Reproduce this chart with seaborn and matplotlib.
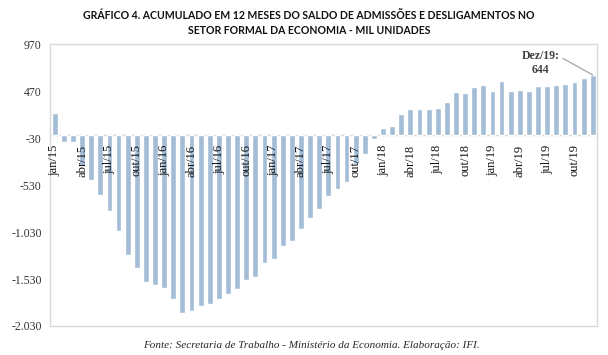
import matplotlib
matplotlib.use("Agg")
import matplotlib.pyplot as plt
import matplotlib.transforms as mtransforms
import seaborn as sns
import pandas as pd

months = ["jan/15","fev/15","mar/15","abr/15","mai/15","jun/15","jul/15","ago/15","set/15","out/15","nov/15","dez/15",
          "jan/16","fev/16","mar/16","abr/16","mai/16","jun/16","jul/16","ago/16","set/16","out/16","nov/16","dez/16",
          "jan/17","fev/17","mar/17","abr/17","mai/17","jun/17","jul/17","ago/17","set/17","out/17","nov/17","dez/17",
          "jan/18","fev/18","mar/18","abr/18","mai/18","jun/18","jul/18","ago/18","set/18","out/18","nov/18","dez/18",
          "jan/19","fev/19","mar/19","abr/19","mai/19","jun/19","jul/19","ago/19","set/19","out/19","nov/19","dez/19"]

values = [244, -66, -66, -330, -477, -630, -809, -1015, -1273, -1416, -1566, -1594,
          -1630, -1744, -1890, -1865, -1815, -1797, -1740, -1690, -1633, -1537, -1505, -1355,
          -1312, -1180, -1123, -1001, -880, -780, -645, -573, -495, -300, -200, -43,
          84, 102, 223, 284, 284, 280, 287, 359, 462, 448, 519, 534,
          473, 580, 473, 480, 477, 527, 523, 534, 552, 566, 609, 644]

shown_labels = ["jan/15","abr/15","jul/15","out/15","jan/16","abr/16","jul/16","out/16",
                "jan/17","abr/17","jul/17","out/17","jan/18","abr/18","jul/18","out/18",
                "jan/19","abr/19","jul/19","out/19"]

yticks = [-2030, -1530, -1030, -530, -30, 470, 970]
ytick_labels = ["-2.030", "-1.530", "-1.030", "-530", "-30", "470", "970"]

title = ("GRÁFICO 4. ACUMULADO EM 12 MESES DO SALDO DE ADMISSÕES E DESLIGAMENTOS NO\n"
         "SETOR FORMAL DA ECONOMIA - MIL UNIDADES")
source = "Fonte: Secretaria de Trabalho - Ministério da Economia. Elaboração: IFI."
annot_text = "Dez/19:\n644"

sns.set_theme(style="white")
plt.rcParams['font.family'] = ['Liberation Serif', 'DejaVu Serif']

df = pd.DataFrame({"mes": months, "saldo": values})

fig = plt.figure(figsize=(6.08, 3.55), dpi=100)
ax = fig.add_axes([0.0822, 0.0817, 0.982 - 0.0822, 0.875 - 0.0817])

sns.barplot(data=df, x="mes", y="saldo", order=months, color="#a3bdd6",
            saturation=1, width=0.64, ax=ax, zorder=2)

ax.set_ylim(-2030, 970)
ax.set_xlim(-0.52, len(months) - 0.53)
ax.set_yticks(yticks)
ax.set_yticklabels(ytick_labels, fontsize=8.5, color="#333333")
ax.set_xticks([])
ax.set_xlabel("")
ax.set_ylabel("")
ax.tick_params(axis="y", length=0, pad=6)

for sp in ax.spines.values():
    sp.set_color("#d9d9d9")
    sp.set_linewidth(1.0)

ax.axhline(0, color="#d9d9d9", linewidth=1.0, zorder=1)

offset = mtransforms.offset_copy(ax.transData, fig=fig, x=0, y=-4.5, units="points")
for lab in shown_labels:
    i = months.index(lab)
    ax.text(i, -30, lab, rotation=90, ha="center", va="top", fontsize=9,
            color="#111111", transform=offset, zorder=5)

last = len(months) - 1
ax.annotate(annot_text, xy=(last, values[last]), xytext=(last - 5.7, 770),
            ha="center", va="center", fontsize=8.5, fontweight="bold", color="#404040",
            linespacing=1.25,
            arrowprops=dict(arrowstyle="-", color="#9a9a9a", lw=0.8,
                            shrinkA=0, shrinkB=0,
                            connectionstyle="arc3,rad=0", relpos=(1.0, 0.75)))

fig.text(0.508, 0.935, title, ha="center", va="center", fontsize=7.6,
         fontweight="bold", family=["Lato", "DejaVu Sans"], color="#111111",
         linespacing=1.5)
fig.text(0.512, 0.028, source, ha="center", va="center", fontsize=8,
         style="italic", color="#262626")

fig.savefig("out.png", dpi=100)
